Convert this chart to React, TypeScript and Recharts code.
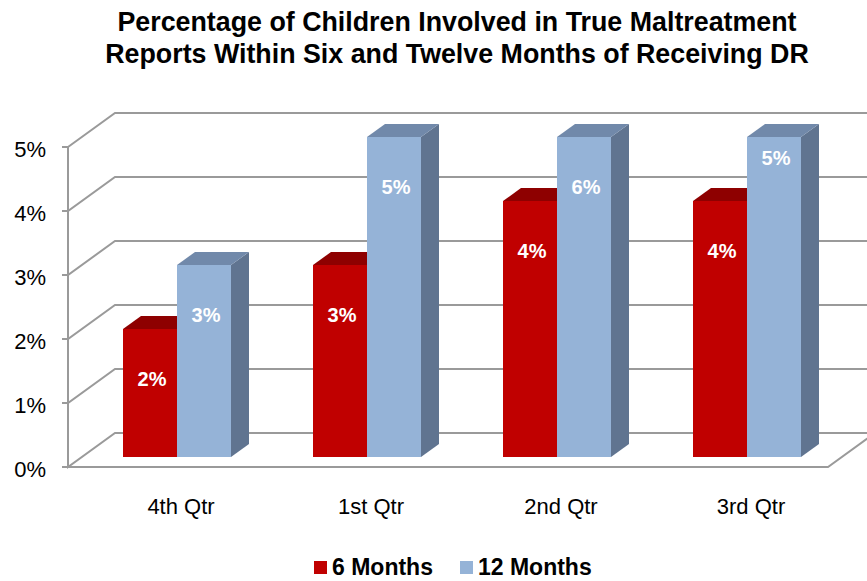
import React from "react";
import { BarChart, Bar, XAxis, YAxis, CartesianGrid } from "recharts";

const quarters = ["4th Qtr", "1st Qtr", "2nd Qtr", "3rd Qtr"];
const sixMonths = [2, 3, 4, 4];
const twelveMonths = [3, 5, 5.6, 5];
const yTicks = [0, 1, 2, 3, 4, 5];

const data = quarters.map((q, i) => ({
  quarter: q,
  six: sixMonths[i],
  twelve: twelveMonths[i],
}));

// axis tops out at 5% like the original, taller bars get cut there
const Y_MAX = 5;
const DOMAIN_MAX = 6;
const DEPTH_X = 18;
const DEPTH_Y = 13;
const GRID = "#9a9a9a";
const FONT = "'Liberation Sans', Arial, sans-serif";

const SERIES = {
  six: { front: "#C00000", top: "#8E0000", side: "#7A0000" },
  twelve: { front: "#95B3D7", top: "#7189AA", side: "#607490" },
};

function make3DBar(key: "six" | "twelve", side: boolean) {
  return function Box(props: any) {
    const { x, y, width, height, value, index } = props;
    if (!height || !value) return null;
    const c = SERIES[key];
    const bottom = y + height;
    const perUnit = height / value;
    const top = bottom - Math.min(value, Y_MAX) * perUnit;
    const topFace = `${x},${top} ${x + width},${top} ${x + width + DEPTH_X},${top - DEPTH_Y} ${x + DEPTH_X},${top - DEPTH_Y}`;
    const sideFace = `${x + width},${top} ${x + width + DEPTH_X},${top - DEPTH_Y} ${x + width + DEPTH_X},${bottom - DEPTH_Y} ${x + width},${bottom}`;
    // last 12-month label sits higher in the original
    const labelDy = key === "twelve" && index === 3 ? 28 : 57;
    return (
      <g>
        {side && <polygon points={sideFace} fill={c.side} />}
        <polygon points={topFace} fill={c.top} />
        <rect x={x} y={top} width={width} height={bottom - top} fill={c.front} />
        <text
          x={x + width / 2 + 2}
          y={top + labelDy}
          textAnchor="middle"
          fill="#fff"
          fontFamily={FONT}
          fontWeight="bold"
          fontSize={20}
        >
          {Math.round(value)}%
        </text>
      </g>
    );
  };
}

const SixBar = make3DBar("six", false);
const TwelveBar = make3DBar("twelve", true);

// back wall lines with the perspective step on the left, front axis and floor
function WallLine(props: any) {
  const { x1, x2, y1, y, height, index } = props;
  const bottom = y + height;
  const step = height / DOMAIN_MAX;
  const yMaxLine = bottom - Y_MAX * step;
  // skip the plot's top edge, it is above the 5% line
  if (y1 < yMaxLine - 0.5) return <g key={`wall-${index}`} />;
  const fx = x1 - 14;
  const bx = x1 + 33;
  const fy = y1 + 10;
  const isFloor = Math.abs(y1 - bottom) < 0.5;
  const isTop = Math.abs(y1 - yMaxLine) < 0.5;
  // front axis piece up to the next tick, then the step back and the wall line
  const pts = [
    ...(isTop ? [] : [`${fx},${fy - step}`]),
    `${fx},${fy}`,
    `${bx},${y1 - 24}`,
    `${x2 + 40},${y1 - 24}`,
  ].join(" ");
  return (
    <g key={`wall-${index}`}>
      <polyline points={pts} stroke={GRID} strokeWidth={2} fill="none" />
      <path d={`M${fx - 6},${fy}H${fx}`} stroke={GRID} strokeWidth={2} />
      {isFloor && (
        <polyline
          points={`${fx},${fy} ${x2 - 14},${fy} ${x2 + 33},${y1 - 24}`}
          stroke={GRID}
          strokeWidth={2}
          fill="none"
        />
      )}
    </g>
  );
}

function YTick(props: any) {
  const { y, payload } = props;
  return (
    <text x={46} y={y + 20} textAnchor="end" fill="#000" fontFamily={FONT} fontSize={22}>
      {payload.value}%
    </text>
  );
}

function XTick(props: any) {
  const { x, y, payload } = props;
  return (
    <text x={x + 4} y={y + 57} textAnchor="middle" fill="#000" fontFamily={FONT} fontSize={22}>
      {payload.value}
    </text>
  );
}

export default function App() {
  return (
    <div
      style={{
        position: "fixed",
        left: 0,
        top: 0,
        width: 867,
        height: 581,
        background: "#fff",
        overflow: "hidden",
        fontFamily: FONT,
      }}
    >
      <div
        style={{
          position: "absolute",
          left: 47,
          top: 6,
          width: 820,
          textAlign: "center",
          fontWeight: "bold",
          fontSize: 26.8,
          lineHeight: "32px",
          color: "#000",
        }}
      >
        Percentage of Children Involved in True Maltreatment
        <br />
        Reports Within Six and Twelve Months of Receiving DR
      </div>

      <BarChart
        width={867}
        height={581}
        data={data}
        margin={{ top: 73, right: 25, bottom: 84, left: 22 }}
        barGap={0}
        barSize={54}
        style={{ position: "absolute", left: 0, top: 0 }}
      >
        <CartesianGrid vertical={false} horizontal={WallLine} />
        <XAxis
          dataKey="quarter"
          height={40}
          axisLine={false}
          tickLine={false}
          tickSize={0}
          tickMargin={0}
          tick={XTick}
          interval={0}
        />
        <YAxis
          width={60}
          domain={[0, DOMAIN_MAX]}
          ticks={yTicks}
          axisLine={false}
          tickLine={false}
          tick={YTick}
        />
        <Bar dataKey="six" shape={SixBar} isAnimationActive={false} />
        <Bar dataKey="twelve" shape={TwelveBar} isAnimationActive={false} />
      </BarChart>

      <div
        style={{
          position: "absolute",
          left: 314,
          top: 554,
          display: "flex",
          alignItems: "center",
          fontWeight: "bold",
          fontSize: 23,
          lineHeight: "26px",
          color: "#000",
          whiteSpace: "nowrap",
        }}
      >
        <span style={{ display: "inline-block", width: 13, height: 13, background: "#C00000", marginRight: 5 }} />
        <span style={{ marginRight: 27 }}>6 Months</span>
        <span style={{ display: "inline-block", width: 13, height: 13, background: "#95B3D7", marginRight: 5 }} />
        <span>12 Months</span>
      </div>
    </div>
  );
}
